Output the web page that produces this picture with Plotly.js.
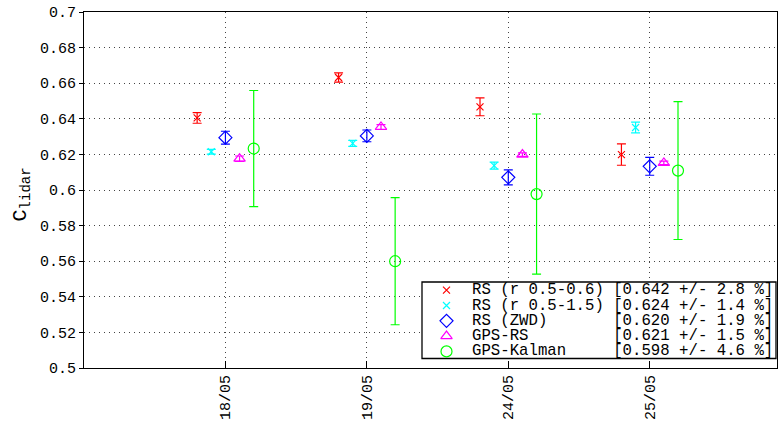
<!DOCTYPE html>
<html><head><meta charset="utf-8">
<script src="https://cdn.plot.ly/plotly-3.0.1.min.js"></script>
<style>body{margin:0;background:#fff}#chart{width:780px;height:425px}</style>
</head><body><div id="chart"></div>
<script>
var categories = ['18/05', '19/05', '24/05', '25/05'];
var seriesNames = [
  'RS (r 0.5-0.6) [0.642 +/- 2.8 %]',
  'RS (r 0.5-1.5) [0.624 +/- 1.4 %]',
  'RS (ZWD)       [0.620 +/- 1.9 %]',
  'GPS-RS         [0.621 +/- 1.5 %]',
  'GPS-Kalman     [0.598 +/- 4.6 %]'
];
var rsR06 = [0.6405, 0.6632, 0.6467, 0.6199];
var rsR06Err = [0.0030, 0.0026, 0.0050, 0.0060];
var rsR15 = [0.6215, 0.6262, 0.6137, 0.6351];
var rsR15Err = [0.0013, 0.0017, 0.0020, 0.0030];
var rsZwd = [0.6294, 0.6304, 0.6071, 0.6133];
var rsZwdErr = [0.0036, 0.0033, 0.0042, 0.0050];
var gpsRs = [0.6176, 0.6354, 0.6199, 0.6152];
var gpsRsErr = [0.0015, 0.0013, 0.0010, 0.0010];
var gpsKalman = [0.6233, 0.5600, 0.5977, 0.6109];
var gpsKalmanErr = [0.0326, 0.0357, 0.0450, 0.0387];

var vals = [rsR06, rsR15, rsZwd, gpsRs, gpsKalman];
var errs = [rsR06Err, rsR15Err, rsZwdErr, gpsRsErr, gpsKalmanErr];
var colors = ['#ff0000', '#00ffff', '#0000ff', '#ff00ff', '#00ff00'];
var symbols = ['x-thin-open', 'x-thin-open', 'diamond-open', 'triangle-up-open', 'circle-open'];
var sizes = [7, 7, 10, 10, 11];
var offsets = [-0.2, -0.1, 0, 0.1, 0.2];
var basePos = categories.map(function(c, i){ return i + 1; });

var traces = vals.map(function(v, k){
  return {
    type: 'scatter', mode: 'markers', showlegend: false,
    x: basePos.map(function(p){ return p + offsets[k]; }),
    y: v,
    marker: {symbol: symbols[k], size: sizes[k], color: colors[k], line: {color: colors[k], width: 1.2}},
    error_y: {type: 'data', array: errs[k], visible: true, color: colors[k], thickness: 1.2, width: 4.5}
  };
});

// custom compact legend (box, keys, texts) placed in axis units
var XMAX = 4.9, YMIN = 0.5, YMAX = 0.7;
var pxX = XMAX / 693, pxY = (YMAX - YMIN) / 356;   // data units per pixel
var boxL = XMAX - 355 * pxX, boxR = XMAX - 1 * pxX;
var boxB = YMIN + 9.5 * pxY, boxT = YMIN + 86 * pxY;
var rowH = 15.3 * pxY, pad = 0.55 * pxY;
var keyX = boxL + 24.5 * pxX, txtX = boxL + 48 * pxX;
function rowY(k){ return boxT - pad - (k + 0.5) * rowH; }

seriesNames.forEach(function(n, k){
  traces.push({
    type: 'scatter', mode: 'markers', showlegend: false, hoverinfo: 'skip',
    x: [keyX], y: [rowY(k)],
    marker: {symbol: symbols[k], size: sizes[k], color: colors[k], line: {color: colors[k], width: 1.2}}
  });
});

var mono = 'Liberation Mono, Courier New, monospace';
var annotations = seriesNames.map(function(n, k){
  return {xref: 'x', yref: 'y', x: txtX, y: rowY(k), xanchor: 'left', yanchor: 'middle',
    text: n.replace(/ /g, '\u00A0'), showarrow: false,
    font: {family: mono, size: 15.7, color: '#000'}};
});
annotations.push({xref: 'paper', yref: 'paper', x: -0.0902, y: 0.489, xanchor: 'center', yanchor: 'middle',
  textangle: -90, showarrow: false, text: 'C<sub>lidar</sub>', font: {family: mono, size: 20, color: '#000'}});

var layout = {
  width: 780, height: 425,
  margin: {l: 84, r: 3, t: 12, b: 57},
  paper_bgcolor: '#fff', plot_bgcolor: '#fff',
  font: {family: mono, size: 15, color: '#000'},
  showlegend: false,
  shapes: [{type: 'rect', xref: 'x', yref: 'y', x0: boxL, x1: boxR, y0: boxB, y1: boxT,
    fillcolor: '#fff', line: {color: '#000', width: 1.3}, layer: 'between'}],
  annotations: annotations,
  xaxis: {
    range: [0, XMAX], tickvals: basePos, ticktext: categories, tickangle: -90,
    showgrid: true, gridcolor: '#444', griddash: '1px,4px', gridwidth: 1,
    showline: true, linecolor: '#000', linewidth: 1, mirror: true,
    ticks: 'inside', ticklen: 7, tickcolor: '#000', zeroline: false,
    tickfont: {family: mono, size: 15}
  },
  yaxis: {
    range: [YMIN, YMAX],
    tickvals: [0.5,0.52,0.54,0.56,0.58,0.6,0.62,0.64,0.66,0.68,0.7],
    ticktext: ['0.5','0.52','0.54','0.56','0.58','0.6','0.62','0.64','0.66','0.68','0.7'],
    showgrid: true, gridcolor: '#444', griddash: '1px,4px', gridwidth: 1,
    showline: true, linecolor: '#000', linewidth: 1, mirror: true,
    ticks: 'outside', ticklen: 4, tickcolor: '#000', zeroline: false,
    tickfont: {family: mono, size: 15}
  }
};
Plotly.newPlot('chart', traces, layout, {displayModeBar: false, staticPlot: true});
</script></body></html>
